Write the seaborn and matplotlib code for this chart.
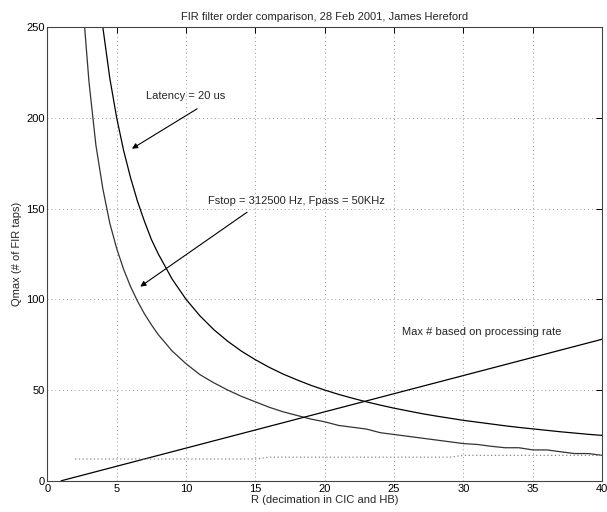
import matplotlib
matplotlib.use("Agg")
import matplotlib.pyplot as plt
import seaborn as sns

# data
r_latency = [3.5, 4, 4.5, 5, 5.5, 6, 6.5, 7, 7.5, 8, 9, 10, 11, 12, 13, 14, 15,
             16, 17, 18, 19, 20, 21, 22, 23, 24, 25, 26, 27, 28, 29, 30, 31, 32,
             33, 34, 35, 36, 37, 38, 39, 40]
q_latency = [286, 250, 222, 200, 182, 167, 154, 143, 133, 125, 111.1, 100, 90.9,
             83.3, 76.9, 71.4, 66.7, 62.5, 58.8, 55.6, 52.6, 50, 47.6, 45.5, 43.5,
             41.7, 40, 38.5, 37, 35.7, 34.5, 33.3, 32.3, 31.3, 30.3, 29.4, 28.6,
             27.8, 27, 26.3, 25.6, 25]

r_fstop = [2.5, 3, 3.5, 4, 4.5, 5, 5.5, 6, 6.5, 7, 7.5, 8, 9, 10, 11, 12, 13,
           14, 15, 16, 17, 18, 19, 20, 21, 22, 23, 24, 25, 26, 27, 28, 29, 30,
           31, 32, 33, 34, 35, 36, 37, 38, 39, 40]
q_fstop = [268, 220, 185, 161, 142, 128, 116.5, 107, 99, 92, 86, 80.5, 71.5,
           64.5, 58.5, 54, 50, 46.5, 43.5, 40.5, 38, 36, 34, 32.5, 30.5, 29.5,
           28.5, 26.5, 25.5, 24.5, 23.5, 22.5, 21.5, 20.5, 20, 19, 18.2, 18.2,
           17, 17, 16, 15, 15, 14]

r_rate = [1, 40]
q_rate = [0, 78]

r_dotted = [2, 15, 16, 29, 30, 40]
q_dotted = [12, 12, 13, 13, 14, 14]

sns.set_style("white")
plt.rcParams["font.family"] = ["Liberation Sans", "DejaVu Sans"]

fig = plt.figure(figsize=(6.07, 5.12), dpi=100)
ax = fig.add_axes([0.078, 0.061, 0.914, 0.886])

sns.lineplot(x=r_latency, y=q_latency, color="black", lw=0.9, ax=ax)
sns.lineplot(x=r_fstop, y=q_fstop, color="#333333", lw=0.9, ax=ax)
sns.lineplot(x=r_rate, y=q_rate, color="black", lw=0.9, ax=ax)
sns.lineplot(x=r_dotted, y=q_dotted, color="#888888", lw=0.9, ls=(0, (1, 2)), ax=ax)

ax.set_xlim(0, 40)
ax.set_ylim(0, 250)
ax.set_xticks(range(0, 41, 5))
ax.set_yticks(range(0, 251, 50))
ax.grid(True, color="#999999", ls=(0, (1, 3)), lw=0.7)
ax.tick_params(direction="in", length=4, width=0.7, labelsize=8, colors="black",
               top=True, right=True, pad=2)
for s in ax.spines.values():
    s.set_visible(True)
    s.set_color("#444444")
    s.set_linewidth(0.8)

ax.set_title("FIR filter order comparison, 28 Feb 2001, James Hereford", fontsize=8, pad=5)
ax.set_xlabel("R (decimation in CIC and HB)", fontsize=8, labelpad=1)
ax.set_ylabel("Qmax (# of FIR taps)", fontsize=8, labelpad=3)

arrow = dict(arrowstyle="-|>", color="black", lw=0.8, mutation_scale=8, shrinkA=0, shrinkB=0)
ax.annotate("", xy=(6.1, 183), xytext=(10.8, 205), arrowprops=arrow)
ax.text(7.1, 212, "Latency = 20 us", fontsize=8, va="center")
ax.annotate("", xy=(6.7, 107), xytext=(14.4, 148), arrowprops=arrow)
ax.text(11.6, 154, "Fstop = 312500 Hz, Fpass = 50KHz", fontsize=8, va="center")
ax.text(25.6, 82, "Max # based on processing rate", fontsize=8, va="center")

fig.savefig("out.png", dpi=100)
